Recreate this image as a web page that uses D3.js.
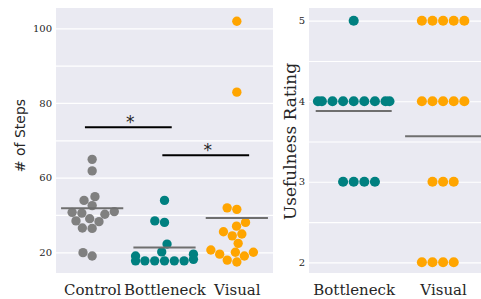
<!DOCTYPE html>
<html>
<head>
<meta charset="utf-8">
<script src="https://cdn.jsdelivr.net/npm/d3@7"></script>
<style>
  body { margin: 0; background: #fff; }
  svg { display: block; }
  .tick text { font-family: "DejaVu Serif", serif; fill: #262626; }
</style>
</head>
<body>
<div id="viz"></div>
<script>
// ---- data ----
const stepGroups = ["Control", "Bottleneck", "Visual"];
const stepsControl = [64.9, 61.8, 54.9, 53.9, 52.5, 50.2, 50.7, 50.9, 50.5, 49.0, 48.2, 48.4, 46.4, 46.5, 39.9, 39.0];
const stepsBottleneck = [53.9, 48.4, 48.0, 42.2, 40.1, 37.7, 37.7, 37.7, 37.7, 37.7, 37.7, 38.1, 39.0, 39.5];
const stepsVisual = [101.9, 82.9, 51.9, 51.5, 48.0, 47.0, 45.5, 44.4, 44.9, 42.4, 40.6, 39.5, 40.0, 40.0, 39.0, 37.9, 37.4];
const stepMeans = [51.8, 41.3, 49.2];
const stepTicks = [40, 60, 80, 100];
const stepTickLabels = ["20", "60", "80", "100"];
const stepGrid = [40, 50, 60, 70, 80, 90, 100];
const sigBars = [
  {x1: -0.1, x2: 1.1, y: 73.5, label: "*"},
  {x1: 0.97, x2: 2.17, y: 66.0, label: "*"}
];

const ratingGroups = ["Bottleneck", "Visual"];
const ratingBottleneck = [5, 4, 4, 4, 4, 4, 4, 4, 4, 4, 3, 3, 3, 3];
const ratingVisual = [5, 5, 5, 5, 5, 4, 4, 4, 4, 4, 3, 3, 3, 2, 2, 2, 2];
const ratingMeans = [3.88, 3.565];
const ratingTicks = [2, 3, 4, 5];
const ratingGrid = [2, 2.5, 3, 3.5, 4, 4.5, 5];

const colors = {Control: "#808080", Bottleneck: "#008080", Visual: "#FFA500"};

// seaborn-like swarm (pixel space); mirror flips which side ties spill to
function swarm(ys, cx, r, halfW, mirror) {
  let pts = ys.map(y => ({y: y})).sort((a, b) => b.y - a.y);
  let placed = [{x: cx, y: pts[0].y}];
  for (let k = 1; k < pts.length; k++) {
    let yi = pts[k].y;
    let nb = [];
    for (let j = placed.length - 1; j >= 0; j--) {
      if (placed[j].y - yi < 2 * r) nb.push(placed[j]);
      else break;
    }
    let cands = [cx];
    let leftFirst = true;
    nb.forEach(n => {
      let dy = n.y - yi;
      let dx = Math.sqrt(Math.max(4 * r * r - dy * dy, 0)) * 1.05;
      if (leftFirst) cands.push(n.x - dx, n.x + dx);
      else cands.push(n.x + dx, n.x - dx);
      leftFirst = !leftFirst;
    });
    cands = cands.map((c, i) => ({c, i})).sort((a, b) => Math.abs(a.c - cx) - Math.abs(b.c - cx) || a.i - b.i);
    let pick = cx;
    for (let q of cands) {
      let ok = nb.every(n => (n.x - q.c) ** 2 + (n.y - yi) ** 2 >= 4 * r * r - 1e-6);
      if (ok) { pick = q.c; break; }
    }
    placed.push({x: pick, y: yi});
  }
  placed.forEach(p => {
    if (mirror) p.x = 2 * cx - p.x;
    p.x = Math.max(cx - halfW, Math.min(cx + halfW, p.x));
  });
  return placed;
}

let W = 481, H = 299;
let svg = d3.select("#viz").append("svg")
  .attr("width", W)
  .attr("height", H);

let yTop = 8, yBottom = 273;

/************ left panel: # of Steps ************/
let L = {x0: 56, x1: 273};
let x1 = d3.scaleLinear().domain([-0.5, 2.5]).range([L.x0, L.x1]);
let y1 = d3.scaleLinear().domain([34.45, 105.44]).range([yBottom, yTop]);

svg.append("rect")
  .attr("x", L.x0).attr("y", yTop)
  .attr("width", L.x1 - L.x0).attr("height", yBottom - yTop)
  .attr("fill", "#EAEAF2");

svg.append("g")
  .attr("transform", `translate(${L.x0},0)`)
  .call(d3.axisLeft(y1).tickValues(stepGrid).tickSize(-(L.x1 - L.x0)).tickFormat(""))
  .call(g => g.select(".domain").remove())
  .call(g => g.selectAll("line").attr("stroke", "#fff").attr("stroke-width", 1.2));

svg.append("g")
  .attr("transform", `translate(${L.x0},0)`)
  .call(d3.axisLeft(y1).tickValues(stepTicks).tickSize(0).tickPadding(4)
    .tickFormat((d, i) => stepTickLabels[i]))
  .call(g => g.select(".domain").remove())
  .style("font-size", "10px");

svg.append("g")
  .attr("transform", `translate(0,${yBottom})`)
  .call(d3.axisBottom(x1).tickValues([0, 1, 2]).tickSize(0).tickPadding(11)
    .tickFormat(i => stepGroups[i]))
  .call(g => g.select(".domain").remove())
  .style("font-size", "15px");

let stepSeries = [stepsControl, stepsBottleneck, stepsVisual];
let bw1 = x1(1) - x1(0);
stepSeries.forEach((vals, gi) => {
  let pos = swarm(vals.map(v => y1(v)), x1(gi), 4.67, bw1 * 0.4, false);
  svg.append("g").selectAll("circle")
    .data(pos)
    .enter().append("circle")
    .attr("cx", d => d.x)
    .attr("cy", d => d.y)
    .attr("r", 4.67)
    .attr("fill", colors[stepGroups[gi]]);
});

svg.append("g").selectAll("line")
  .data(stepMeans)
  .enter().append("line")
  .attr("x1", (d, i) => x1(i - 0.43))
  .attr("x2", (d, i) => x1(i + 0.43))
  .attr("y1", d => y1(d))
  .attr("y2", d => y1(d))
  .attr("stroke", "#6f6f6f")
  .attr("stroke-width", 2);

sigBars.forEach(b => {
  svg.append("line")
    .attr("x1", x1(b.x1)).attr("x2", x1(b.x2))
    .attr("y1", y1(b.y)).attr("y2", y1(b.y))
    .attr("stroke", "#000")
    .attr("stroke-width", 2);
  svg.append("text")
    .attr("x", x1((b.x1 + b.x2) / 2) + 2)
    .attr("y", y1(b.y) + 1)
    .attr("text-anchor", "middle")
    .style("font-family", "DejaVu Sans")
    .style("font-size", "17px")
    .attr("fill", "#262626")
    .text(b.label);
});

svg.append("text")
  .attr("transform", `translate(25,${(yTop + yBottom) / 2 - 5}) rotate(-90)`)
  .attr("text-anchor", "middle")
  .style("font-family", "DejaVu Sans")
  .style("font-size", "14px")
  .attr("fill", "#262626")
  .text("# of Steps");

/************ right panel: Usefulness Rating ************/
let R = {x0: 309, x1: 487.8};
let x2 = d3.scaleLinear().domain([-0.5, 1.5]).range([R.x0, R.x1]);
let y2 = d3.scaleLinear().domain([1.867, 5.158]).range([yBottom, yTop]);

svg.append("rect")
  .attr("x", R.x0).attr("y", yTop)
  .attr("width", R.x1 - R.x0).attr("height", yBottom - yTop)
  .attr("fill", "#EAEAF2");

svg.append("g")
  .attr("transform", `translate(${R.x0},0)`)
  .call(d3.axisLeft(y2).tickValues(ratingGrid).tickSize(-(R.x1 - R.x0)).tickFormat(""))
  .call(g => g.select(".domain").remove())
  .call(g => g.selectAll("line").attr("stroke", "#fff").attr("stroke-width", 1.2));

svg.append("g")
  .attr("transform", `translate(${R.x0},0)`)
  .call(d3.axisLeft(y2).tickValues(ratingTicks).tickSize(0).tickPadding(4).tickFormat(d3.format("d")))
  .call(g => g.select(".domain").remove())
  .style("font-size", "10px");

svg.append("g")
  .attr("transform", `translate(0,${yBottom})`)
  .call(d3.axisBottom(x2).tickValues([0, 1]).tickSize(0).tickPadding(11)
    .tickFormat(i => ratingGroups[i]))
  .call(g => g.select(".domain").remove())
  .style("font-size", "15px");

let ratingSeries = [ratingBottleneck, ratingVisual];
let bw2 = x2(1) - x2(0);
ratingSeries.forEach((vals, gi) => {
  let pos = swarm(vals.map(v => y2(v)), x2(gi), 5.05, bw2 * 0.4, gi === 1);
  svg.append("g").selectAll("circle")
    .data(pos)
    .enter().append("circle")
    .attr("cx", d => d.x)
    .attr("cy", d => d.y)
    .attr("r", 5.05)
    .attr("fill", colors[ratingGroups[gi]]);
});

svg.append("g").selectAll("line")
  .data(ratingMeans)
  .enter().append("line")
  .attr("x1", (d, i) => x2(i - 0.425))
  .attr("x2", (d, i) => x2(i + 0.425))
  .attr("y1", d => y2(d))
  .attr("y2", d => y2(d))
  .attr("stroke", "#6f6f6f")
  .attr("stroke-width", 2);

svg.append("text")
  .attr("transform", `translate(296,${(yTop + yBottom) / 2 + 1}) rotate(-90)`)
  .attr("text-anchor", "middle")
  .style("font-family", "DejaVu Serif")
  .style("font-size", "17px")
  .attr("fill", "#262626")
  .text("Usefulness Rating");
</script>
</body>
</html>
